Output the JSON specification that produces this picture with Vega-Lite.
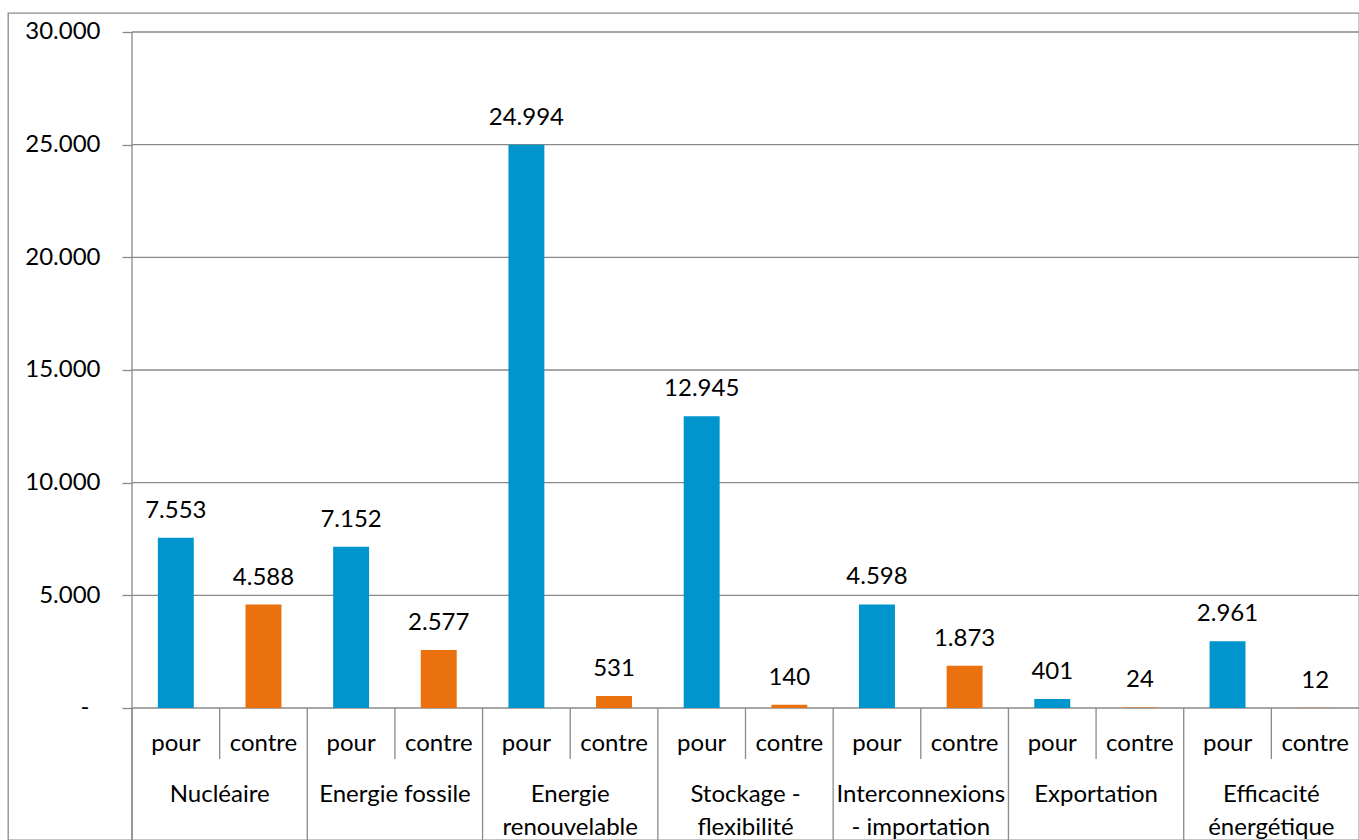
{
  "$schema": "https://vega.github.io/schema/vega-lite/v6.json",
  "width": 1351,
  "height": 827,
  "autosize": {"type": "none"},
  "padding": {"left": 8, "top": 13, "right": 0, "bottom": 0},
  "config": {
    "locale": {"number": {"decimal": ",", "thousands": ".", "grouping": [3], "currency": ["", " €"]}},
    "view": {"stroke": "#8a8a8a", "strokeWidth": 1.3},
    "font": "Lato",
    "text": {"font": "Lato", "fontSize": 24, "color": "#000000"}
  },
  "datasets": {
    "bars": [
      {"group": "Nucléaire", "type": "pour", "value": 7553},
      {"group": "Nucléaire", "type": "contre", "value": 4588},
      {"group": "Energie fossile", "type": "pour", "value": 7152},
      {"group": "Energie fossile", "type": "contre", "value": 2577},
      {"group": "Energie renouvelable", "type": "pour", "value": 24994},
      {"group": "Energie renouvelable", "type": "contre", "value": 531},
      {"group": "Stockage - flexibilité", "type": "pour", "value": 12945},
      {"group": "Stockage - flexibilité", "type": "contre", "value": 140},
      {"group": "Interconnexions - importation", "type": "pour", "value": 4598},
      {"group": "Interconnexions - importation", "type": "contre", "value": 1873},
      {"group": "Exportation", "type": "pour", "value": 401},
      {"group": "Exportation", "type": "contre", "value": 24},
      {"group": "Efficacité énergétique", "type": "pour", "value": 2961},
      {"group": "Efficacité énergétique", "type": "contre", "value": 12}
    ],
    "groups": [
      {"group": "Nucléaire", "label": "Nucléaire"},
      {"group": "Energie fossile", "label": "Energie fossile"},
      {"group": "Energie renouvelable", "label": "Energie\nrenouvelable"},
      {"group": "Stockage - flexibilité", "label": "Stockage -\nflexibilité"},
      {"group": "Interconnexions - importation", "label": "Interconnexions\n- importation"},
      {"group": "Exportation", "label": "Exportation"},
      {"group": "Efficacité énergétique", "label": "Efficacité\nénergétique"}
    ],
    "ticks": [
      {"tick": 0}, {"tick": 5000}, {"tick": 10000}, {"tick": 15000},
      {"tick": 20000}, {"tick": 25000}, {"tick": 30000}
    ]
  },
  "layer": [
    {
      "data": {"name": "ticks"},
      "mark": {"type": "rule", "color": "#8a8a8a", "strokeWidth": 1.3},
      "encoding": {
        "y": {
          "field": "tick", "type": "quantitative",
          "scale": {"domain": [-5858, 30843], "nice": false, "zero": false},
          "axis": {
            "values": [0, 5000, 10000, 15000, 20000, 25000, 30000],
            "title": null, "grid": false, "domain": false,
            "ticks": true, "tickSize": 10, "tickColor": "#8a8a8a", "tickWidth": 1.3,
            "labelFont": "Lato", "labelFontSize": 24, "labelColor": "#000000",
            "labelPadding": {"condition": {"test": "datum.value == 0", "value": 33}, "value": 22},
            "offset": -124,
            "labelExpr": "datum.value == 0 ? '-' : datum.label"
          }
        },
        "x": {
          "datum": "Nucléaire", "type": "nominal", "bandPosition": 0,
          "scale": {
            "domain": ["Nucléaire", "Energie fossile", "Energie renouvelable", "Stockage - flexibilité", "Interconnexions - importation", "Exportation", "Efficacité énergétique"],
            "paddingInner": 0, "paddingOuter": 0.35371, "align": 1
          },
          "axis": null
        },
        "x2": {"value": "width"}
      }
    },
    {
      "data": {"name": "groups"},
      "mark": {"type": "rule", "color": "#8a8a8a", "strokeWidth": 1.3},
      "encoding": {
        "x": {"field": "group", "type": "nominal", "bandPosition": 0, "axis": null},
        "y": {"datum": 0, "type": "quantitative"},
        "y2": {"value": "height"}
      }
    },
    {
      "data": {"name": "groups"},
      "mark": {"type": "rule", "color": "#8a8a8a", "strokeWidth": 1.3},
      "encoding": {
        "x": {"field": "group", "type": "nominal", "bandPosition": 0.5, "axis": null},
        "y": {"datum": 0, "type": "quantitative"},
        "y2": {"datum": -2263}
      }
    },
    {
      "data": {"name": "groups"},
      "transform": [{"filter": "datum.group == 'Nucléaire'"}],
      "mark": {"type": "rule", "color": "#8a8a8a", "strokeWidth": 1.3},
      "encoding": {
        "x": {"field": "group", "type": "nominal", "bandPosition": 0, "axis": null},
        "y": {"datum": 30000, "type": "quantitative"},
        "y2": {"value": "height"}
      }
    },
    {
      "data": {"name": "bars"},
      "mark": {"type": "bar"},
      "encoding": {
        "x": {"field": "group", "type": "nominal", "axis": null},
        "xOffset": {
          "field": "type", "type": "nominal",
          "scale": {"domain": ["pour", "contre"], "paddingInner": 0.59, "paddingOuter": 0.295}
        },
        "y": {"field": "value", "type": "quantitative"},
        "color": {
          "field": "type", "type": "nominal",
          "scale": {"domain": ["pour", "contre"], "range": ["#0096CD", "#EB700E"]},
          "legend": null
        }
      }
    },
    {
      "data": {"name": "bars"},
      "mark": {"type": "text", "baseline": "alphabetic", "dy": -20, "fontSize": 24},
      "encoding": {
        "x": {"field": "group", "type": "nominal", "axis": null},
        "xOffset": {"field": "type", "type": "nominal"},
        "y": {"field": "value", "type": "quantitative"},
        "text": {"field": "value", "type": "quantitative", "format": ",d"}
      }
    },
    {
      "data": {"name": "bars"},
      "mark": {"type": "text", "baseline": "alphabetic", "fontSize": 24},
      "encoding": {
        "x": {"field": "group", "type": "nominal", "axis": null},
        "xOffset": {"field": "type", "type": "nominal"},
        "y": {"datum": -1908, "type": "quantitative"},
        "text": {"field": "type", "type": "nominal"}
      }
    },
    {
      "data": {"name": "groups"},
      "mark": {"type": "text", "baseline": "alphabetic", "fontSize": 24, "lineBreak": "\n", "lineHeight": 33},
      "encoding": {
        "x": {"field": "group", "type": "nominal", "axis": null},
        "y": {"datum": -4172, "type": "quantitative"},
        "text": {"field": "label", "type": "nominal"}
      }
    }
  ]
}
